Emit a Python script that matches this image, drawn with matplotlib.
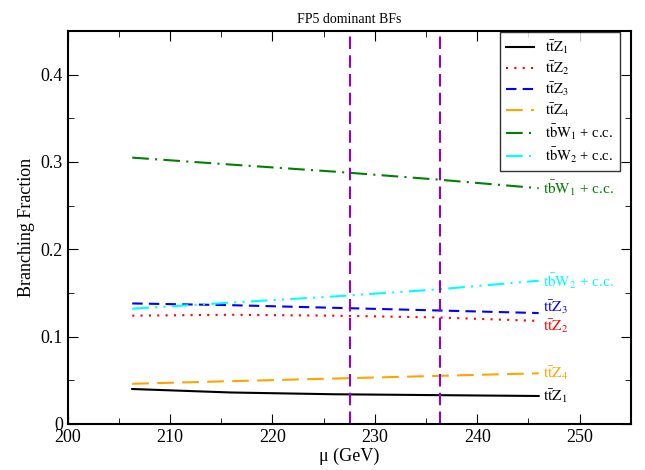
import matplotlib
matplotlib.use("Agg")
import matplotlib.pyplot as plt
from matplotlib.ticker import MultipleLocator

plt.rcParams['font.family'] = ['Liberation Serif', 'DejaVu Serif']
plt.rcParams['mathtext.fontset'] = 'stix'

mu = [206.3, 216, 226, 236, 246]
ttz1 = [0.040, 0.036, 0.034, 0.033, 0.032]
ttz2 = [0.124, 0.125, 0.124, 0.122, 0.118]
ttz3 = [0.138, 0.136, 0.133, 0.130, 0.127]
ttz4 = [0.046, 0.049, 0.052, 0.055, 0.058]
tbw1 = [0.305, 0.297, 0.289, 0.280, 0.270]
tbw2 = [0.132, 0.139, 0.146, 0.154, 0.164]
vlines = [227.6, 236.4]

labels = [r'$\mathrm{t\bar{t}Z_1}$', r'$\mathrm{t\bar{t}Z_2}$', r'$\mathrm{t\bar{t}Z_3}$',
          r'$\mathrm{t\bar{t}Z_4}$', r'$\mathrm{t\bar{b}W_1}$ + c.c.', r'$\mathrm{t\bar{b}W_2}$ + c.c.']
series = [ttz1, ttz2, ttz3, ttz4, tbw1, tbw2]
colors = ['black', 'red', 'blue', 'orange', 'green', 'cyan']
styles = ['-', (0, (1, 3)), (0, (5, 3)), (0, (8, 4)), (0, (8, 3, 1, 3)), (0, (8, 3, 1, 3, 1, 3))]
# vertical nudge (points) of the end-of-line labels
nudges = [0, -4, 4, 0, 0, 0]

fig = plt.figure(figsize=(6.45, 4.7), dpi=100)
ax = fig.add_axes([0.105, 0.098, 0.873, 0.836])

for y, c, ls, lab, dy in zip(series, colors, styles, labels, nudges):
    ax.plot(mu, y, color=c, linestyle=ls, linewidth=1.5, label=lab)
    ax.annotate(lab, (mu[-1], y[-1]), xytext=(3, dy), textcoords='offset points',
                color=c, fontsize=11, va='center', ha='left')

for v in vlines:
    ax.axvline(v, color='darkviolet', linestyle=(0, (6, 3)), linewidth=1.5)

ax.set_xlim(200, 255)
ax.set_ylim(0, 0.45)
ax.xaxis.set_major_locator(MultipleLocator(10))
ax.xaxis.set_minor_locator(MultipleLocator(5))
ax.yaxis.set_major_locator(MultipleLocator(0.1))
ax.yaxis.set_minor_locator(MultipleLocator(0.05))
ax.set_yticks([0, 0.1, 0.2, 0.3, 0.4])
ax.set_yticklabels(['0', '0.1', '0.2', '0.3', '0.4'])
ax.tick_params(which='both', direction='in', top=True, right=True, labelsize=13)
ax.tick_params(which='major', length=7)
ax.tick_params(which='minor', length=4)
for s in ax.spines.values():
    s.set_linewidth(1.5)

ax.set_xlabel('μ (GeV)', fontsize=13, labelpad=1)
ax.set_ylabel('Branching Fraction', fontsize=13)
ax.set_title('FP5 dominant BFs', fontsize=10, pad=6)

leg = ax.legend(loc='upper right', bbox_to_anchor=(0.98, 0.998), fontsize=10.5,
                frameon=True, fancybox=False, edgecolor='black', handlelength=1.9,
                handletextpad=0.75, borderaxespad=0, labelspacing=0.22, borderpad=0.45)
leg.get_frame().set_linewidth(1.0)

fig.savefig('out.png', dpi=100)
